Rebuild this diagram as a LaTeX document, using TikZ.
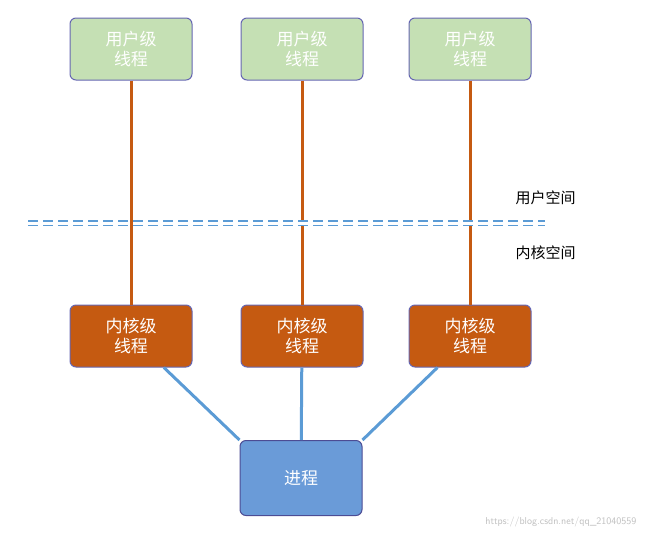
\documentclass[tikz,border=0pt]{standalone}
\usepackage{fontspec}
\setmainfont{Noto Sans CJK SC}
\begin{document}
\begin{tikzpicture}[x=1pt,y=-1pt,
 ubox/.style={draw=black!50!blue!60,line width=1pt,fill=green!40!black!10!green!20,fill=ugreen,rounded corners=6pt,minimum width=122pt,minimum height=62pt,text=white,font=\fontsize{17}{20}\selectfont,align=center,inner sep=0pt},
 kbox/.style={ubox,fill=korange},
 pbox/.style={ubox,fill=pblue,draw=black!60!blue!70,minimum height=75pt},
 oline/.style={korange,line width=3pt},
 bline/.style={lblue,line width=3pt}]
\definecolor{ugreen}{HTML}{C5E0B4}
\definecolor{korange}{HTML}{C55A11}
\definecolor{pblue}{HTML}{6A9BD8}
\definecolor{lblue}{HTML}{5B9BD5}
\useasboundingbox (0,0) rectangle (649,539);
\node[ubox] (u1) at (131,49) {用户级\\线程};
\node[ubox] (u2) at (302,49) {用户级\\线程};
\node[ubox] (u3) at (470,49) {用户级\\线程};
\node[kbox] (k1) at (131,336) {内核级\\线程};
\node[kbox] (k2) at (302,336) {内核级\\线程};
\node[kbox] (k3) at (470,336) {内核级\\线程};
\node[pbox] (p) at (301,478) {进程};
\draw[oline] (u1) -- (k1);
\draw[oline] (u2) -- (k2);
\draw[oline] (u3) -- (k3);
\draw[bline] (k1) -- (p.north west);
\draw[bline] (k2) -- (p);
\draw[bline] (k3) -- (p.north east);
\coordinate (dl) at (28,223);
\coordinate (dr) at (545,223);
\draw[lblue,line width=1.2pt,dash pattern=on 10pt off 5pt,double distance=3pt] (dl) -- (dr);
\node[font=\fontsize{15}{18}\selectfont,anchor=west] (us) at (512,198) {用户空间};
\node[font=\fontsize{15}{18}\selectfont,anchor=west] (ks) at (512,253) {内核空间};
\node[font=\fontsize{10}{12}\selectfont\sffamily,text=black!25,anchor=east] (wm) at (640,522) {https://blog.csdn.net/qq\_21040559};
\end{tikzpicture}
\end{document}
